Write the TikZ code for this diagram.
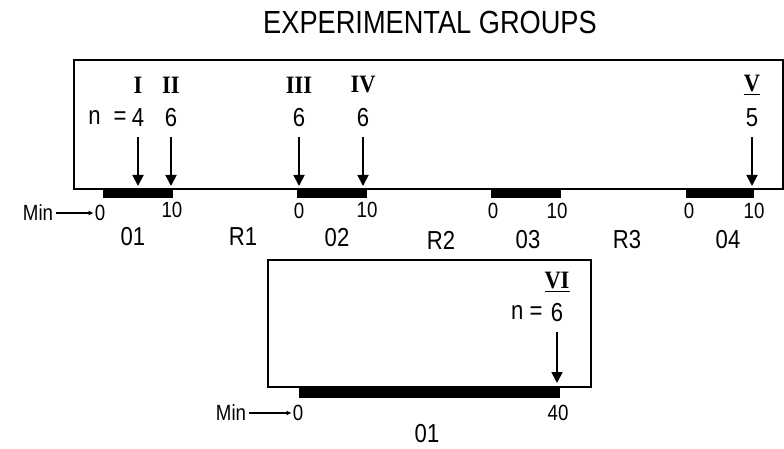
\documentclass[tikz,border=0pt]{standalone}
\usepackage{fontspec}
\setmainfont{Liberation Sans}[FakeStretch=0.85]
\newfontfamily\romfont{Liberation Serif}[FakeStretch=0.9]
\usetikzlibrary{positioning,arrows.meta}

\begin{document}
\begin{tikzpicture}[x=1pt, y=-1pt,
    frame/.style={draw, line width=1.8pt},
    lbl/.style={inner sep=0pt, font=\fontsize{26}{26}\selectfont},
    tick/.style={inner sep=0pt, font=\fontsize{22}{22}\selectfont},
    roman/.style={inner sep=0pt, font=\romfont\bfseries\fontsize{25}{25}\selectfont},
    arr/.style={-{Triangle[length=11pt,width=11pt]}, line width=1.8pt, shorten <=10pt},
    minarr/.style={-{Latex[length=5pt,width=5pt]}, line width=1.2pt, shorten >=1pt, shorten <=3pt}
  ]
    \useasboundingbox (0,0) rectangle (784,449);
    \node[inner sep=0pt, font=\fontsize{32}{32}\selectfont] (title) at (430,22) {EXPERIMENTAL GROUPS};

    % upper frame and the four periods
    \draw[frame] (74,60) rectangle (783,189);
    \fill (103,189) rectangle (173,198);
    \fill (297,189) rectangle (367,198);
    \fill (491,189) rectangle (561,198);
    \fill (686,189) rectangle (754,198);

    \node[roman] (gI) at (138,85) {I};
    \node[roman] (gII) at (171,85) {II};
    \node[roman] (gIII) at (299,85) {III};
    \node[roman] (gIV) at (363,85) {IV};
    \node[roman] (gV) at (752,85) {\underline{V}};

    \node[lbl] (nI) at (138,118) {4};
    \node[lbl, left=5pt of nI] (neq) {n\enspace=};
    \node[lbl] (nII) at (171,118) {6};
    \node[lbl] (nIII) at (299,118) {6};
    \node[lbl] (nIV) at (363,118) {6};
    \node[lbl] (nV) at (752,118) {5};

    \coordinate (tI) at (138,186);
    \coordinate (tII) at (171,186);
    \coordinate (tIII) at (299,186);
    \coordinate (tIV) at (363,186);
    \coordinate (tV) at (752,186);
    \draw[arr] (nI) -- (tI);
    \draw[arr] (nII) -- (tII);
    \draw[arr] (nIII) -- (tIII);
    \draw[arr] (nIV) -- (tIV);
    \draw[arr] (nV) -- (tV);

    % time scales
    \node[tick] (minA) at (38,213) {Min};
    \node[tick] (zA) at (100,213) {0};
    \draw[minarr] (minA) -- (zA);
    \node[tick] (tenA) at (172,210) {10};
    \node[tick] (zB) at (299,211) {0};
    \node[tick] (tenB) at (367,210) {10};
    \node[tick] (zC) at (493,211) {0};
    \node[tick] (tenC) at (557,211) {10};
    \node[tick] (zD) at (689,211) {0};
    \node[tick] (tenD) at (754,211) {10};

    \node[lbl] (pA) at (133,237) {01};
    \node[lbl] (rA) at (243,237) {R1};
    \node[lbl] (pB) at (337,238) {02};
    \node[lbl] (rB) at (441,240) {R2};
    \node[lbl] (pC) at (528,240) {03};
    \node[lbl] (rC) at (627,240) {R3};
    \node[lbl] (pD) at (728,240) {04};

    % lower frame
    \draw[frame] (268,260) rectangle (591,387);
    \fill (299,387) rectangle (560,398);
    \node[roman] (gVI) at (557,282) {\underline{VI}};
    \node[lbl] (nVI) at (557,313) {6};
    \node[lbl, left=8pt of nVI] (neqVI) {n =};
    \coordinate (tVI) at (557,383);
    \draw[arr] (nVI) -- (tVI);

    \node[tick] (minE) at (231,413) {Min};
    \node[tick] (zE) at (298,413) {0};
    \draw[minarr] (minE) -- (zE);
    \node[tick] (fortyE) at (558,413) {40};
    \node[lbl] (pE) at (427,434) {01};
  \end{tikzpicture}
\end{document}
